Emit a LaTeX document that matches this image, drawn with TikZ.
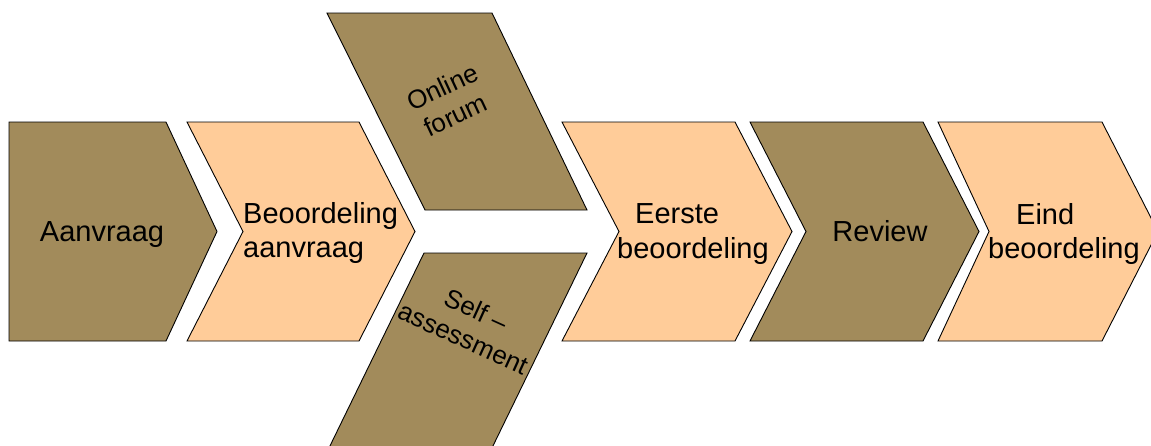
\documentclass[tikz,border=0pt]{standalone}
\usepackage{fontspec}
\setmainfont{Liberation Sans}
\definecolor{brownfill}{HTML}{A28B5B}
\definecolor{peachfill}{HTML}{FFCC99}
\begin{document}
\begin{tikzpicture}[x=1pt,y=-1pt,
  shapeline/.style={draw=black,line width=0.9pt,line join=miter},
  brownshape/.style={shapeline,fill=brownfill},
  peachshape/.style={shapeline,fill=peachfill},
  bigtext/.style={inner sep=0pt,font=\fontsize{29}{34.5}\selectfont,text=black},
  smalltext/.style={inner sep=0pt,font=\fontsize{26}{31}\selectfont,text=black,align=center}]
\useasboundingbox (0,0) rectangle (1151,445);
\clip (0,0) rectangle (1151,445);
% chevrons
\path[brownshape] (9,122) -- (166,122) -- (217,231.5) -- (166,341) -- (9,341) -- cycle;
\path[peachshape] (187,122) -- (359,122) -- (415,231.5) -- (359,341) -- (187,341) -- (243,231.5) -- cycle;
\path[brownshape] (327,13) -- (492,13) -- (587,210) -- (425,210) -- cycle;
\path[brownshape] (424,253) -- (587,253) -- (490,452) -- (327,452) -- cycle;
\path[peachshape] (562,122) -- (735,122) -- (792,231.5) -- (735,341) -- (562,341) -- (619,231.5) -- cycle;
\path[brownshape] (750,122) -- (923,122) -- (979,231.5) -- (923,341) -- (750,341) -- (806,231.5) -- cycle;
\path[peachshape] (938,122) -- (1102,122) -- (1158,231.5) -- (1102,341) -- (938,341) -- (989,231.5) -- cycle;
% texts
\node[bigtext,anchor=base] (aanvraag) at (102,241) {Aanvraag};
\node[bigtext,anchor=west,align=left] (beoordeling) at (243,233) {Beoordeling\\aanvraag};
\node[smalltext,rotate=25] (forum) at (449,101) {Online\\forum};
\node[smalltext,rotate=-24.4] (self) at (470,324) {Self –\\assessment};
\node[bigtext,anchor=west,align=left] (eerste) at (617,234) {\hspace*{18pt}Eerste\\beoordeling};
\node[bigtext,anchor=base] (review) at (880,241) {Review};
\node[bigtext,anchor=west,align=left] (eind) at (988,234) {\hspace*{28pt}Eind\\beoordeling};
\end{tikzpicture}
\end{document}
